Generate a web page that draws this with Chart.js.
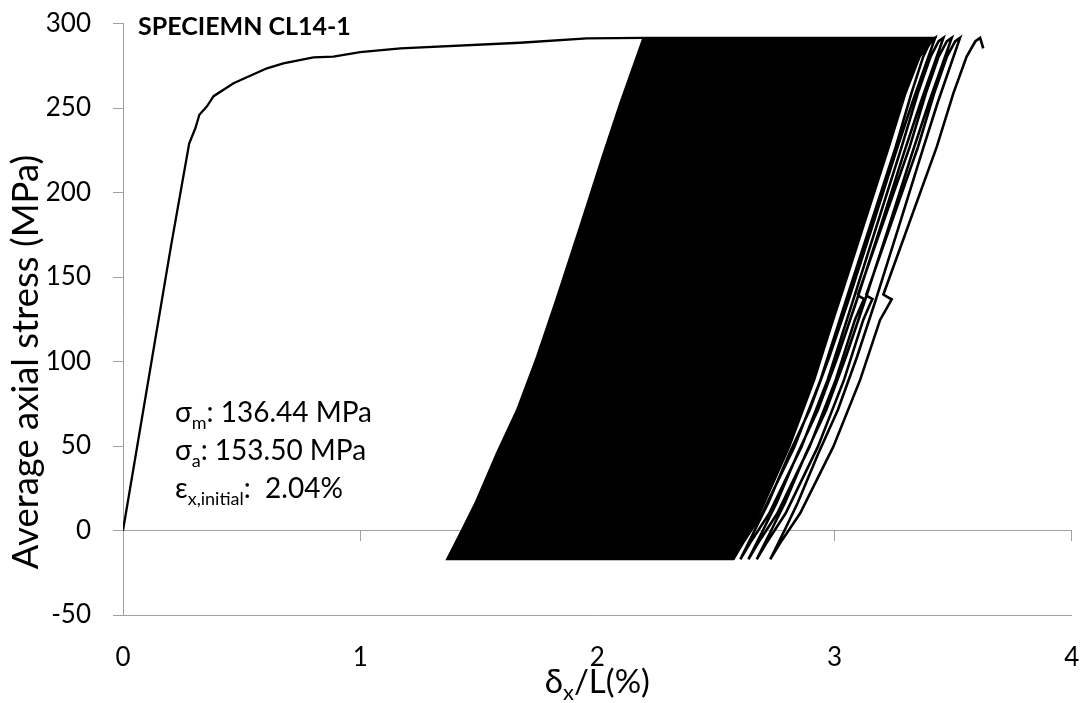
<!DOCTYPE html>
<html>
<head>
<meta charset="utf-8">
<script src="https://cdn.jsdelivr.net/npm/chart.js@4.4.1/dist/chart.umd.min.js"></script>
<style>
  html, body { margin: 0; padding: 0; background: #fff; }
  #chart { display: block; }
</style>
</head>
<body>
<canvas id="chart" width="1081" height="703"></canvas>
<script>
// first monotonic loading up to the peak stress
const monoStrain = [0, 0.202, 0.279, 0.305, 0.322, 0.354, 0.382, 0.466, 0.607, 0.676, 0.803, 0.887, 1.0, 1.17, 1.674, 1.956, 2.194];
const monoStress = [0, 168, 229, 238, 246, 251, 257, 264.6, 273.5, 276.4, 280, 280.4, 283, 285.3, 288.6, 291.2, 291.5];

// outline of the band where the ratcheting loops overlap
const bandStrain = [2.194, 2.096, 2.026, 1.927, 1.826, 1.745, 1.661, 1.576, 1.485, 1.429, 1.366,
  2.573, 2.61, 2.685, 2.81, 2.915, 2.995, 3.03, 3.23, 3.30, 3.36, 3.424, 2.194];
const bandStress = [291.5, 252.8, 223.2, 179.8, 136.4, 102.8, 71.3, 45.7, 16.1, 0.3, -17,
  -17, -7.6, 10.2, 49.6, 89.1, 124.6, 139.6, 227, 258.7, 280.4, 291.5, 291.5];

// last cycles, still separable at the right of the band
const lastStrain = [
  2.573, 2.613, 2.695, 2.831, 2.941, 3.022, 3.056, 3.258, 3.324, 3.374, 3.404, 3.424,
  3.327, 3.257, 3.159, 3.059, 2.978, 2.895, 2.810, 2.720, 2.664, 2.603,
  2.643, 2.725, 2.861, 2.971, 3.052, 3.086, 3.283, 3.351, 3.405, 3.439, 3.459,
  3.362, 3.292, 3.194, 3.094, 3.013, 2.930, 2.845, 2.755, 2.699, 2.637,
  2.677, 2.759, 2.895, 3.005, 3.086, 3.115, 3.125, 3.105, 3.099, 3.317, 3.385, 3.439, 3.474, 3.494,
  3.397, 3.327, 3.229, 3.129, 3.048, 2.965, 2.880, 2.790, 2.734, 2.672,
  2.712, 2.794, 2.930, 3.040, 3.121, 3.150, 3.160, 3.140, 3.134, 3.352, 3.420, 3.474, 3.509, 3.529,
  3.434, 3.367, 3.271, 3.174, 3.095, 3.014, 2.932, 2.844, 2.790, 2.729,
  2.770, 2.855, 2.995, 3.108, 3.192, 3.228, 3.241, 3.222, 3.206, 3.431, 3.501, 3.557, 3.594, 3.614, 3.627
];
const lastStress = [
  -17, -7.6, 10.2, 49.6, 89.1, 124.6, 139.6, 227, 258.7, 280.4, 289.5, 291.5,
  252.8, 223.2, 179.8, 136.4, 102.8, 71.3, 45.7, 16.1, 0.3, -17,
  -7.6, 10.2, 49.6, 89.1, 124.6, 139.6, 227, 258.7, 280.4, 289.5, 291.5,
  252.8, 223.2, 179.8, 136.4, 102.8, 71.3, 45.7, 16.1, 0.3, -17,
  -7.6, 10.2, 49.6, 89.1, 124.6, 134, 137, 138.5, 139.6, 227, 258.7, 280.4, 289.5, 291.5,
  252.8, 223.2, 179.8, 136.4, 102.8, 71.3, 45.7, 16.1, 0.3, -17,
  -7.6, 10.2, 49.6, 89.1, 124.6, 134, 137, 138.5, 139.6, 227, 258.7, 280.4, 289.5, 291.5,
  252.8, 223.2, 179.8, 136.4, 102.8, 71.3, 45.7, 16.1, 0.3, -17,
  -7.6, 10.2, 49.6, 89.1, 124.6, 133.5, 136.8, 138.2, 139.6, 227, 258.7, 280.4, 289.5, 291.5, 285.3
];

const xTicks = [0, 1, 2, 3, 4];
const yTicks = [-50, 0, 50, 100, 150, 200, 250, 300];

const specimenName = 'SPECIEMN CL14-1';
const loadInfo = [
  { sym: 'σ', sub: 'm', rest: ': 136.44 MPa' },
  { sym: 'σ', sub: 'a', rest: ': 153.50 MPa' },
  { sym: 'ε', sub: 'x,initial', rest: ':  2.04%' },
];

const FONT = 'Lato, "Open Sans", sans-serif';
const AXIS_GREY = '#a0a0a0';

function toPoints(xs, ys) {
  return xs.map((x, i) => ({ x, y: ys[i] }));
}

// the axes sit at fixed pixel edges, so drop the label overhang padding
function pinScale(scale, size) {
  if (scale.isHorizontal()) scale.height = size;
  else scale.width = size;
  scale.paddingTop = 0;
  scale.paddingBottom = 0;
  scale.paddingLeft = 0;
  scale.paddingRight = 0;
}

// draws a symbol followed by a subscript and the remaining text
function drawSubText(ctx, x, y, sym, sub, rest, size, subSize, drop) {
  ctx.font = `${size}px ${FONT}`;
  ctx.fillText(sym, x, y);
  x += ctx.measureText(sym).width;
  ctx.font = `${subSize}px ${FONT}`;
  ctx.fillText(sub, x, y + drop);
  x += ctx.measureText(sub).width;
  ctx.font = `${size}px ${FONT}`;
  ctx.fillText(rest, x, y);
  return x + ctx.measureText(rest).width;
}

const textPlugin = {
  id: 'chartText',
  afterDraw(chart) {
    const { ctx } = chart;
    ctx.save();
    ctx.fillStyle = '#000';
    ctx.textAlign = 'left';
    ctx.textBaseline = 'alphabetic';

    ctx.font = `bold 25px ${FONT}`;
    ctx.fillText(specimenName, 138, 35);

    loadInfo.forEach((row, i) => {
      drawSubText(ctx, 175, 421.5 + i * 38.3, row.sym, row.sub, row.rest, 28, 18, 7);
    });

    // x axis title, centred under the plot area
    const area = chart.chartArea;
    ctx.font = `33px ${FONT}`;
    const w1 = ctx.measureText('δ').width;
    const w3 = ctx.measureText('/L(%)').width;
    ctx.font = `22px ${FONT}`;
    const w2 = ctx.measureText('x').width;
    const left = (area.left + area.right) / 2 - (w1 + w2 + w3) / 2;
    drawSubText(ctx, left, 693, 'δ', 'x', '/L(%)', 33, 22, 7);

    // y axis title
    ctx.translate(38, 362);
    ctx.rotate(-Math.PI / 2);
    ctx.textAlign = 'center';
    ctx.font = `36.5px ${FONT}`;
    ctx.fillText('Average axial stress (MPa)', 0, 0);
    ctx.restore();
  }
};

const tickFont = { family: FONT, size: 26 };

new Chart(document.getElementById('chart'), {
  type: 'scatter',
  data: {
    datasets: [
      {
        label: 'band',
        data: toPoints(bandStrain, bandStress),
        showLine: true,
        fill: 'shape',
        backgroundColor: '#000',
        borderColor: '#000',
        borderWidth: 2,
        pointRadius: 0,
        tension: 0,
      },
      {
        label: 'monotonic',
        data: toPoints(monoStrain, monoStress),
        showLine: true,
        borderColor: '#000',
        borderWidth: 2.3,
        pointRadius: 0,
        tension: 0,
      },
      {
        label: 'last cycles',
        data: toPoints(lastStrain, lastStress),
        showLine: true,
        borderColor: '#000',
        borderWidth: 2.6,
        pointRadius: 0,
        tension: 0,
      },
    ],
  },
  options: {
    responsive: false,
    animation: false,
    layout: { padding: { top: 23.5, right: 9.3, left: 0, bottom: 0 } },
    plugins: {
      legend: { display: false },
      tooltip: { enabled: false },
    },
    scales: {
      x: {
        type: 'linear',
        position: 'bottom',
        min: 0,
        max: 4,
        afterBuildTicks: (scale) => { scale.ticks = xTicks.map((v) => ({ value: v })); },
        ticks: { font: tickFont, color: '#000', padding: 27 },
        grid: { display: false, drawTicks: false },
        border: { display: true, color: AXIS_GREY, width: 1 },
        afterFit: (scale) => pinScale(scale, 88),
      },
      xZero: {
        type: 'linear',
        position: { y: 0 },
        min: 0,
        max: 4,
        afterBuildTicks: (scale) => { scale.ticks = xTicks.map((v) => ({ value: v })); },
        ticks: { display: false },
        grid: { display: true, drawOnChartArea: false, drawTicks: true, tickLength: 10, color: AXIS_GREY },
        border: { display: true, color: AXIS_GREY, width: 1 },
        afterFit: (scale) => pinScale(scale, 10),
      },
      y: {
        type: 'linear',
        position: 'left',
        min: -50,
        max: 300,
        afterBuildTicks: (scale) => { scale.ticks = yTicks.map((v) => ({ value: v })); },
        ticks: { font: tickFont, color: '#000', padding: 22 },
        grid: { display: true, drawOnChartArea: false, drawTicks: true, tickLength: 10, color: AXIS_GREY },
        border: { display: true, color: AXIS_GREY, width: 1 },
        afterFit: (scale) => pinScale(scale, 123),
      },
    },
  },
  plugins: [textPlugin],
});
</script>
</body>
</html>
